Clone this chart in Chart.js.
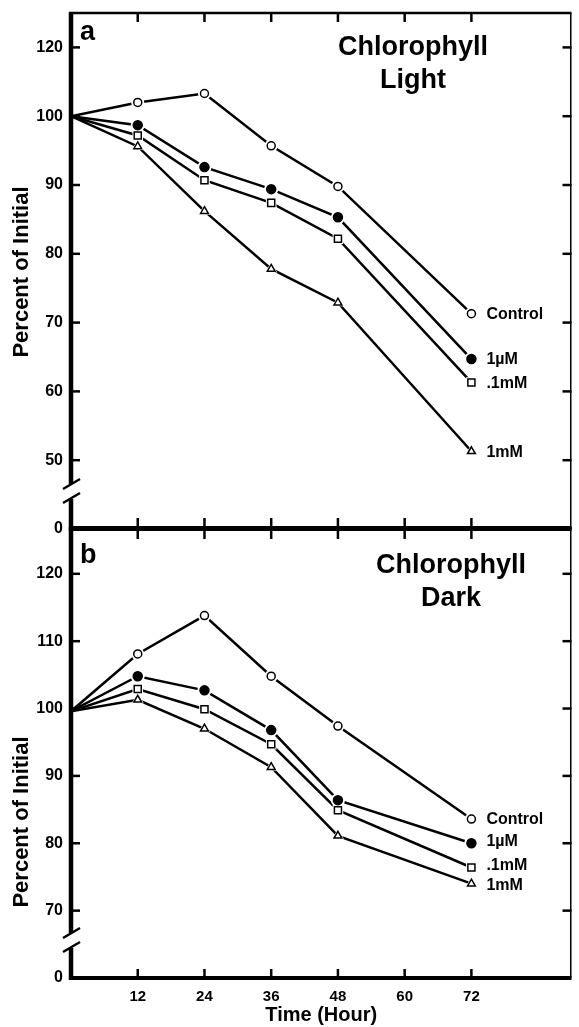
<!DOCTYPE html>
<html lang="en">
<head>
<meta charset="UTF-8">
<title>Chlorophyll - Light / Dark</title>
<script src="https://cdn.jsdelivr.net/npm/chart.js"></script>
<style>
  html, body { margin: 0; padding: 0; background: #fff; }
  body { width: 579px; height: 1027px; position: relative; overflow: hidden; }
  .panel { position: absolute; left: 0; width: 579px; }
  #boxA { top: 0; height: 545px; }
  #boxB { top: 515px; height: 512px; }
</style>
</head>
<body>
<div class="panel" id="boxA"><canvas id="chartA" width="579" height="545"></canvas></div>
<div class="panel" id="boxB"><canvas id="chartB" width="579" height="512"></canvas></div>
<script>
// sampling times (hours) and the x tick marks
const hours = [0, 12, 24, 36, 48, 72];
const xTicks = [12, 24, 36, 48, 60, 72];
const seriesNames = ['Control', '1\u00b5M', '.1mM', '1mM'];

// a: chlorophyll in the light (% of initial)
const lightControl = [100, 102.0, 103.3, 95.7, 89.8, 71.3];
const light1uM     = [100, 98.7, 92.6, 89.4, 85.3, 64.7];
const light01mM    = [100, 97.2, 90.7, 87.4, 82.2, 61.3];
const light1mM     = [100, 95.6, 86.2, 77.8, 72.9, 51.3];

// b: chlorophyll in the dark
const darkControl = [99.6, 108.1, 113.8, 104.8, 97.4, 83.6];
const dark1uM     = [99.6, 104.8, 102.7, 96.8, 86.4, 80.0];
const dark01mM    = [99.6, 102.9, 99.9, 94.7, 84.9, 76.4];
const dark1mM     = [99.6, 101.3, 97.0, 91.3, 81.1, 74.0];

// y ticks - lowest one sits below the axis break and reads "0"
// (the top tick of panel a is printed "120" in the original figure)
const lightTickValues = [40, 50, 60, 70, 80, 90, 100, 110];
const lightTickLabels = ['0', '50', '60', '70', '80', '90', '100', '120'];
const darkTickValues = [60, 70, 80, 90, 100, 110, 120];
const darkTickLabels = ['0', '70', '80', '90', '100', '110', '120'];

const FONT = '"Liberation Sans", Arial, Helvetica, sans-serif';

const markerStyles = [
  { style: 'circle', radius: 4, fill: '#fff' },
  { style: 'circle', radius: 4.5, fill: '#000' },
  { style: 'rect', radius: 5, fill: '#fff' },
  { style: 'triangle', radius: 4.5, fill: '#fff' }
];

// each series = line + white halo (gap round the marker) + marker
function buildDatasets(seriesList) {
  const sets = [];
  seriesList.forEach((vals, i) => {
    const pts = hours.map((h, j) => ({ x: h, y: vals[j] }));
    const m = markerStyles[i];
    const rad = r => c => (c.dataIndex === 0 ? 0 : r);
    sets.push({ label: seriesNames[i], data: pts, borderColor: '#000', borderWidth: 2.5,
                pointRadius: 0, tension: 0, order: 3 });
    sets.push({ data: pts, showLine: false, pointStyle: m.style, pointRadius: rad(m.radius + 2.5),
                pointBackgroundColor: '#fff', pointBorderColor: '#fff', pointBorderWidth: 0, order: 2 });
    sets.push({ data: pts, showLine: false, pointStyle: m.style, pointRadius: rad(m.radius),
                pointBackgroundColor: m.fill, pointBorderColor: '#000', pointBorderWidth: 1.5, order: 1 });
  });
  return sets;
}

function line(ctx, x1, y1, x2, y2) {
  ctx.beginPath(); ctx.moveTo(x1, y1); ctx.lineTo(x2, y2); ctx.stroke();
}

// keep the plot box exactly where the layout padding puts it
function noScalePadding(s) {
  s.paddingTop = 0; s.paddingBottom = 0; s.paddingLeft = 0; s.paddingRight = 0;
}

function framePlugin(p) {
  return {
    id: 'frame',
    beforeDatasetsDraw(chart) {
      const { ctx, chartArea: a, scales: { x, y } } = chart;
      ctx.save();
      ctx.strokeStyle = '#000';
      // top + right borders
      ctx.lineWidth = p.isTop ? 2.5 : 4;
      line(ctx, a.left - 2, a.top, a.right, a.top);
      ctx.lineWidth = 1.5;
      line(ctx, a.right - 0.75, a.top, a.right - 0.75, a.bottom);
      // bottom axis
      ctx.lineWidth = 4;
      line(ctx, a.left - 2, a.bottom, a.right, a.bottom);
      // left axis with a break just above the "0"
      const brk = a.bottom - 38;
      ctx.lineWidth = 4.5;
      line(ctx, a.left, a.top - 1, a.left, brk - 7);
      line(ctx, a.left, brk + 8, a.left, a.bottom + 2);
      ctx.lineWidth = 2.5;
      line(ctx, a.left - 8, brk - 2, a.left + 9, brk - 12);
      line(ctx, a.left - 8, brk + 12, a.left + 9, brk + 2);
      // inward ticks
      p.tickValues.slice(1).forEach(v => {
        const py = y.getPixelForValue(v);
        line(ctx, a.left, py, a.left + 9, py);
        line(ctx, a.right, py, a.right - 9, py);
      });
      xTicks.forEach(v => {
        const px = x.getPixelForValue(v);
        line(ctx, px, a.top, px, a.top + (p.isTop ? 9 : 11));
        line(ctx, px, a.bottom, px, a.bottom - (p.isTop ? 11 : 9));
      });
      ctx.restore();
    },
    afterDatasetsDraw(chart) {
      const { ctx, chartArea: a, scales: { x, y } } = chart;
      ctx.save();
      ctx.fillStyle = '#000';
      ctx.textBaseline = 'alphabetic';
      // panel letter
      ctx.textAlign = 'left';
      ctx.font = 'bold 27px ' + FONT;
      ctx.fillText(p.letter, a.left + 9, p.letterY);
      // panel title
      ctx.textAlign = 'center';
      ctx.font = 'bold 27px ' + FONT;
      p.title.forEach((t, i) => ctx.fillText(t, p.titleX, p.titleY + i * 33));
      // series labels at the last points
      ctx.textAlign = 'left';
      ctx.textBaseline = 'middle';
      ctx.font = 'bold 16px ' + FONT;
      p.series.forEach((vals, i) => {
        const k = vals.length - 1;
        ctx.fillText(seriesNames[i], x.getPixelForValue(hours[k]) + 15,
                     y.getPixelForValue(vals[k]) + 1 + p.labelNudge[i]);
      });
      // y title
      ctx.translate(22, p.yTitleY);
      ctx.rotate(-Math.PI / 2);
      ctx.textAlign = 'center';
      ctx.font = 'bold 22px ' + FONT;
      ctx.fillText('Percent of Initial', 0, 0);
      ctx.restore();
    }
  };
}

function makeChart(id, p) {
  const tickFont = { family: FONT, weight: 'bold', size: 16 };
  return new Chart(document.getElementById(id), {
    type: 'line',
    data: { datasets: buildDatasets(p.series) },
    options: {
      responsive: false,
      animation: false,
      events: [],
      layout: { padding: p.padding },
      plugins: { legend: { display: false }, tooltip: { enabled: false } },
      scales: {
        x: {
          type: 'linear', min: 0, max: 90,
          display: !p.isTop,
          afterBuildTicks: s => { s.ticks = xTicks.map(v => ({ value: v })); },
          afterFit: s => { s.height = p.isTop ? 0 : 49; noScalePadding(s); },
          grid: { display: false, drawTicks: false },
          border: { display: false },
          ticks: { font: { family: FONT, weight: 'bold', size: 15 }, color: '#000',
                   padding: 10, autoSkip: false, maxRotation: 0 },
          title: { display: true, text: 'Time (Hour)', color: '#000', padding: 0,
                   font: { family: FONT, weight: 'bold', size: 20 } }
        },
        y: {
          type: 'linear', min: p.min, max: p.max,
          afterBuildTicks: s => { s.ticks = p.tickValues.map(v => ({ value: v })); },
          afterFit: s => { s.width = 71; noScalePadding(s); },
          grid: { display: false, drawTicks: false },
          border: { display: false },
          ticks: { font: tickFont, color: '#000', padding: 8, autoSkip: false,
                   callback: (v, i) => p.tickLabels[i] }
        }
      }
    },
    plugins: [framePlugin(p)]
  });
}

makeChart('chartA', {
  isTop: true, letter: 'a', letterY: 40,
  title: ['Chlorophyll', 'Light'], titleX: 413, titleY: 55,
  series: [lightControl, light1uM, light01mM, light1mM], labelNudge: [0, 0, 0, 0],
  tickValues: lightTickValues, tickLabels: lightTickLabels, min: 40, max: 115,
  padding: { top: 13, right: 1, bottom: 16, left: 0 }, yTitleY: 272
});

makeChart('chartB', {
  isTop: false, letter: 'b', letterY: 48,
  title: ['Chlorophyll', 'Dark'], titleX: 451, titleY: 58,
  series: [darkControl, dark1uM, dark01mM, dark1mM], labelNudge: [0, -3, -3, 1],
  tickValues: darkTickValues, tickLabels: darkTickLabels, min: 60, max: 126.8,
  padding: { top: 13, right: 1, bottom: 0, left: 0 }, yTitleY: 307
});
</script>
</body>
</html>
